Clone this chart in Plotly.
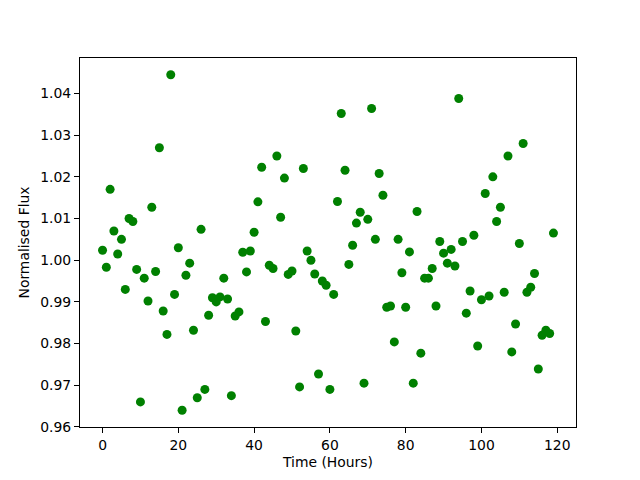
import plotly.graph_objects as go

hours = list(range(120))
flux = [
    1.0024, 0.9983, 1.0170, 1.0070, 1.0015, 1.0050, 0.9930, 1.0100, 1.0093, 0.9978,
    0.9660, 0.9957, 0.9902, 1.0127, 0.9973, 1.0270, 0.9878, 0.9822, 1.0445, 0.9918,
    1.0030, 0.9640, 0.9964, 0.9993, 0.9832, 0.9670, 1.0074, 0.9690, 0.9868, 0.9910,
    0.9900, 0.9912, 0.9957, 0.9907, 0.9675, 0.9866, 0.9876, 1.0019, 0.9972, 1.0022,
    1.0067, 1.0140, 1.0223, 0.9853, 0.9988, 0.9980, 1.0250, 1.0103, 1.0197, 0.9966,
    0.9974, 0.9830, 0.9696, 1.0220, 1.0022, 1.0000, 0.9967, 0.9727, 0.9950, 0.9940,
    0.9690, 0.9918, 1.0141, 1.0352, 1.0216, 0.9990, 1.0036, 1.0089, 1.0115, 0.9705,
    1.0098, 1.0364, 1.0050, 1.0208, 1.0156, 0.9887, 0.9890, 0.9804, 1.0050, 0.9970,
    0.9887, 1.0020, 0.9705, 1.0117, 0.9777, 0.9957, 0.9957, 0.9980, 0.9890, 1.0045,
    1.0017, 0.9993, 1.0026, 0.9986, 1.0388, 1.0045, 0.9873, 0.9926, 1.0060, 0.9794,
    0.9905, 1.0160, 0.9914, 1.0200, 1.0093, 1.0127, 0.9923, 1.0250, 0.9780, 0.9847,
    1.0040, 1.0280, 0.9923, 0.9935, 0.9968, 0.9739, 0.9820, 0.9832, 0.9824, 1.0065,
]

x_ticks = [0, 20, 40, 60, 80, 100, 120]
y_ticks = [0.96, 0.97, 0.98, 0.99, 1.00, 1.01, 1.02, 1.03, 1.04]
y_tick_labels = ["0.96", "0.97", "0.98", "0.99", "1.00", "1.01", "1.02", "1.03", "1.04"]

xmin, xmax = min(hours), max(hours)
ymin, ymax = min(flux), max(flux)
xpad = 0.05 * (xmax - xmin)
ypad = 0.05 * (ymax - ymin)

fig = go.Figure(go.Scatter(
    x=hours, y=flux, mode="markers",
    marker=dict(color="#008000", size=9, line=dict(width=0)),
))

font = dict(family="DejaVu Sans", size=13.9, color="black")
axis_common = dict(
    showline=True, linecolor="black", linewidth=1, mirror=True,
    ticks="outside", ticklen=5, tickwidth=1, tickcolor="black",
    showgrid=False, zeroline=False, tickfont=font,
)
fig.update_xaxes(range=[xmin - xpad, xmax + xpad], tickvals=x_ticks,
                 title=dict(text="Time (Hours)", font=font, standoff=5), **axis_common)
fig.update_yaxes(range=[ymin - ypad, ymax + ypad], tickvals=y_ticks, ticktext=y_tick_labels,
                 title=dict(text="Normalised Flux", font=font, standoff=7), **axis_common)
fig.update_layout(
    width=640, height=480,
    margin=dict(l=80, r=64, t=58, b=53),
    paper_bgcolor="white", plot_bgcolor="white",
    showlegend=False, font=font, hovermode=False,
)
fig.write_html("out.html", config={"displayModeBar": False},
               post_script="document.body.style.margin='0';document.body.style.padding='0';")
